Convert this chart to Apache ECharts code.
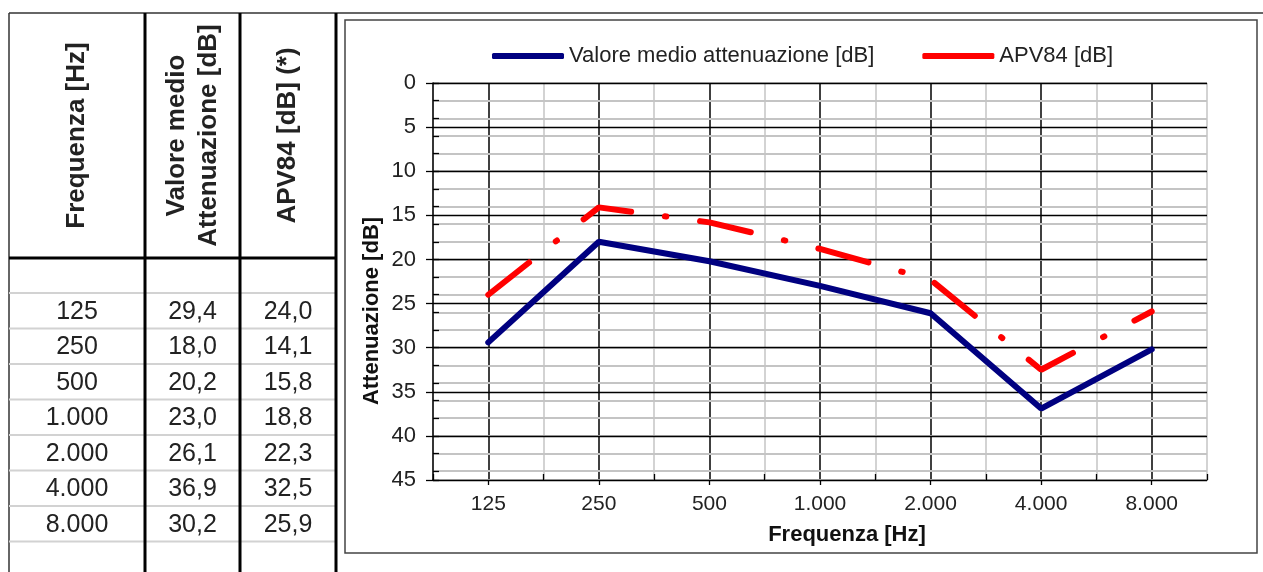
<!DOCTYPE html>
<html>
<head>
<meta charset="utf-8">
<script src="https://cdn.jsdelivr.net/npm/echarts@6/dist/echarts.min.js"></script>
<style>
html,body{margin:0;padding:0;background:#fff;}
#c{width:1263px;height:572px;}
</style>
</head>
<body>
<div id="c"></div>
<script>
// ---- data ----
const categories = ['125', '250', '500', '1.000', '2.000', '4.000', '8.000'];
const mediaValues = [29.4, 18.0, 20.2, 23.0, 26.1, 36.9, 30.2];
const apvValues = [24.0, 14.1, 15.8, 18.8, 22.3, 32.5, 25.9];
const seriesNames = ['Valore medio attenuazione [dB]', 'APV84 [dB]'];
const tableHeaders = [['Frequenza [Hz]'], ['Valore medio', 'Attenuazione [dB]'], ['APV84 [dB] (*)']];
const xAxisTitle = 'Frequenza [Hz]';
const yAxisTitle = 'Attenuazione [dB]';

// ---- helpers ----
const fmt = v => v.toFixed(1).replace('.', ',');
const FONT = '"Liberation Sans", Arial, sans-serif';

// ---- table layout ----
const colX = [9, 145, 240, 336];
const tableTop = 13, headBottom = 258, rowLine0 = 293, rowH = 35.5, pageH = 572;
const graphics = [];
graphics.push({type:'line', shape:{x1:9, y1:tableTop, x2:1263, y2:tableTop}, style:{stroke:'#333', lineWidth:1.5}});
graphics.push({type:'line', shape:{x1:colX[0], y1:tableTop, x2:colX[0], y2:pageH}, style:{stroke:'#333', lineWidth:1.5}});
const nRowLines = categories.length + 1;
for (let k = 0; k < nRowLines; k++) {
  const y = rowLine0 + k * rowH;
  graphics.push({type:'line', shape:{x1:colX[0], y1:y, x2:colX[3], y2:y}, style:{stroke:'#d2d2d2', lineWidth:2}});
}
graphics.push({type:'line', shape:{x1:colX[0], y1:headBottom, x2:colX[3], y2:headBottom}, style:{stroke:'#000', lineWidth:3}});
for (let c = 1; c < colX.length; c++) {
  graphics.push({type:'line', shape:{x1:colX[c], y1:tableTop, x2:colX[c], y2:pageH}, style:{stroke:'#000', lineWidth:3}});
}
const headMid = (tableTop + headBottom) / 2;
tableHeaders.forEach((lines, c) => {
  const cx = (colX[c] + colX[c + 1]) / 2;
  const lh = 32;
  lines.forEach((t, i) => {
    const x = cx + (i - (lines.length - 1) / 2) * lh;
    graphics.push({type:'text', x:x, y:headMid, rotation:Math.PI/2,
      style:{text:t, font:'bold 26px ' + FONT, fill:'#222', align:'center', verticalAlign:'middle'}});
  });
});
const cols = [categories, mediaValues.map(fmt), apvValues.map(fmt)];
cols.forEach((col, c) => {
  const cx = (colX[c] + colX[c + 1]) / 2;
  col.forEach((t, r) => {
    graphics.push({type:'text', x:cx, y:rowLine0 + r * rowH + 19,
      style:{text:t, font:'25px ' + FONT, fill:'#222', align:'center', verticalAlign:'middle'}});
  });
});
graphics.push({type:'rect', shape:{x:345, y:20, width:912, height:533}, style:{fill:null, stroke:'#444', lineWidth:1.5}});
graphics.push({type:'text', x:372, y:311, rotation:Math.PI/2,
  style:{text:yAxisTitle, font:'bold 22px ' + FONT, fill:'#111', align:'center', verticalAlign:'middle'}});
graphics.push({type:'text', x:847, y:535,
  style:{text:xAxisTitle, font:'bold 22px ' + FONT, fill:'#111', align:'center', verticalAlign:'middle'}});

const chart = echarts.init(document.getElementById('c'), null, {renderer:'canvas'});
chart.setOption({
  backgroundColor:'#fff',
  animation:false,
  textStyle:{fontFamily:FONT},
  graphic:{elements:graphics},
  legend:{
    left:492, top:45, padding:0, itemGap:48, itemWidth:72, itemHeight:6,
    textStyle:{fontSize:22, color:'#222', fontFamily:FONT},
    data:[
      {name:seriesNames[0], icon:'roundRect'},
      {name:seriesNames[1], icon:'roundRect'}
    ]
  },
  grid:{left:433, top:83, right:56, bottom:92, containLabel:false},
  xAxis:[
    {type:'value', min:-0.5, max:6.5, interval:0.5,
     axisLine:{show:true, onZero:false, lineStyle:{color:'#000', width:1.5}},
     axisTick:{show:false},
     axisLabel:{fontSize:21, color:'#222', margin:14,
       formatter:v => Number.isInteger(v) ? categories[v] : ''},
     splitLine:{show:true, lineStyle:{color:['#c4c4c4', '#000'], width:1.5}}
    },
    {type:'value', min:-0.5, max:6.5, interval:1, position:'bottom', z:3,
     axisLine:{show:false, onZero:false}, axisLabel:{show:false}, splitLine:{show:false},
     axisTick:{show:true, inside:true, length:6, lineStyle:{color:'#000', width:1.3}}
    },
    {type:'category', data:categories, boundaryGap:true, position:'bottom', z:3,
     axisLine:{show:false, onZero:false}, axisLabel:{show:false}, splitLine:{show:false},
     axisTick:{show:true, alignWithLabel:true, inside:false, length:5, lineStyle:{color:'#000', width:1.3}}
    }
  ],
  yAxis:[
    {type:'value', inverse:true, min:0, max:45, interval:5, z:2,
     axisLine:{show:true, onZero:false, lineStyle:{color:'#000', width:1.5}},
     axisTick:{show:true, length:7, lineStyle:{color:'#000', width:1.3}},
     axisLabel:{fontSize:22, color:'#222', margin:17},
     splitLine:{show:true, lineStyle:{color:'#000', width:1.3}}
    },
    {type:'value', inverse:true, min:0, max:45, interval:2, z:1, position:'left',
     axisLine:{show:false, onZero:false}, axisLabel:{show:false},
     axisTick:{show:true, inside:true, length:6, lineStyle:{color:'#000', width:1.3}},
     splitLine:{show:true, lineStyle:{color:'#c4c4c4', width:2}}
    }
  ],
  series:[
    {name:seriesNames[0], type:'line', xAxisIndex:0, yAxisIndex:0, symbol:'none', z:4,
     color:'#000080',
     lineStyle:{color:'#000080', width:6, cap:'round'},
     data:mediaValues.map((v, i) => [i, v])},
    {name:seriesNames[1], type:'line', xAxisIndex:0, yAxisIndex:0, symbol:'none', z:5,
     color:'#ff0000',
     lineStyle:{color:'#ff0000', width:6, cap:'round', type:[52, 34, 1.5, 34]},
     data:apvValues.map((v, i) => [i, v])}
  ]
});
</script>
</body>
</html>
